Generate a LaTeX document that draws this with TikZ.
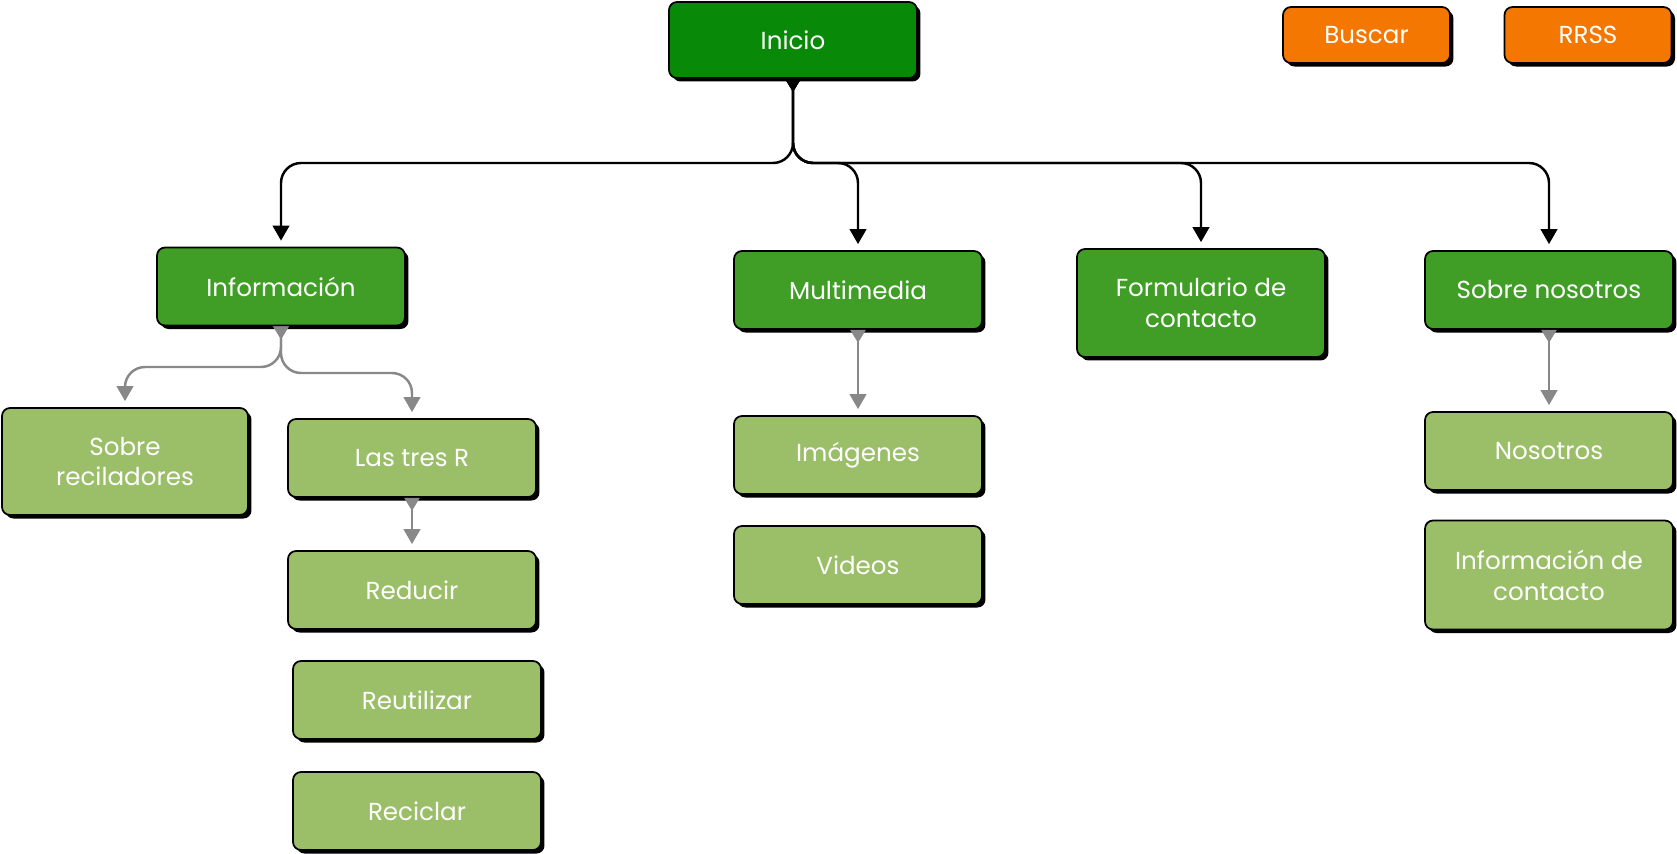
\documentclass[tikz,border=0pt]{standalone}
\usepackage{fontspec}
\setmainfont{Poppins}
\usetikzlibrary{arrows.meta,shadows}

\definecolor{verdeinicio}{RGB}{8,138,8}
\definecolor{verdemedio}{RGB}{64,158,38}
\definecolor{verdeclaro}{RGB}{155,190,104}
\definecolor{naranja}{RGB}{243,119,0}
\definecolor{grisflecha}{RGB}{136,136,136}

\begin{document}
\begin{tikzpicture}[x=0.02cm, y=-0.02cm, font=\fontsize{14}{17.6}\selectfont,
  caja/.style={draw=black, line width=1pt, rounded corners=0.16cm, text=white,
    align=center, inner sep=0pt, minimum width=4.96cm, minimum height=1.56cm,
    drop shadow={shadow xshift=0.07cm, shadow yshift=-0.07cm, fill=black, opacity=1}},
  principal/.style={caja, fill=verdemedio},
  secundaria/.style={caja, fill=verdeclaro},
  extra/.style={caja, fill=naranja, minimum width=3.34cm, minimum height=1.12cm},
  rama/.style={draw=black, line width=1.4pt, rounded corners=0.4cm,
    {Triangle[reversed,width=0.3cm,length=0.26cm]}-{Triangle[width=0.33cm,length=0.3cm]},
    shorten >=0.12cm},
  ramagris/.style={rama, draw=grisflecha, fill=none}]
\useasboundingbox (0,0) rectangle (1677,853);
% root
\node[caja, fill=verdeinicio, minimum width=4.96cm, minimum height=1.52cm] (inicio) at (793,40) {Inicio};
% search and social buttons
\node[extra] (buscar) at (1366.5,35) {Buscar};
\node[extra] (rrss) at (1588,35) {RRSS};
% first level
\node[principal] (info) at (281,286.5) {Información};
\node[principal] (multimedia) at (858,290) {Multimedia};
\node[principal, minimum height=2.16cm] (formulario) at (1201,303) {Formulario de\\contacto};
\node[principal] (sobrenos) at (1549,290) {Sobre nosotros};
% children of Información
\node[secundaria, minimum width=4.92cm, minimum height=2.14cm] (sobrerec) at (125,461.5) {Sobre\\reciladores};
\node[secundaria] (tresr) at (412,458) {Las tres R};
\node[secundaria] (reducir) at (412,590) {Reducir};
\node[secundaria] (reutilizar) at (417,700) {Reutilizar};
\node[secundaria] (reciclar) at (417,811) {Reciclar};
% children of Multimedia
\node[secundaria] (imagenes) at (858,455) {Imágenes};
\node[secundaria] (videos) at (858,565) {Videos};
% children of Sobre nosotros
\node[secundaria] (nosotros) at (1549,451) {Nosotros};
\node[secundaria, minimum height=2.18cm] (infocontacto) at (1549,575) {Información de\\contacto};
% black branches from Inicio
\coordinate (bus) at (0,163);
\draw[rama] (inicio.south) -- (inicio.south |- bus) -| (info.north);
\draw[rama] (inicio.south) -- (inicio.south |- bus) -| (multimedia.north);
\draw[rama] (inicio.south) -- (inicio.south |- bus) -| (formulario.north);
\draw[rama] (inicio.south) -- (inicio.south |- bus) -| (sobrenos.north);
% grey branches
\coordinate (businfoa) at (0,367);
\coordinate (businfob) at (0,373);
\draw[ramagris] (info.south) -- (info.south |- businfoa) -| (sobrerec.north);
\draw[ramagris] (info.south) -- (info.south |- businfob) -| (tresr.north);
\draw[ramagris] (tresr.south) -- (reducir.north);
\draw[ramagris] (multimedia.south) -- (imagenes.north);
\draw[ramagris] (sobrenos.south) -- (nosotros.north);
\end{tikzpicture}
\end{document}
